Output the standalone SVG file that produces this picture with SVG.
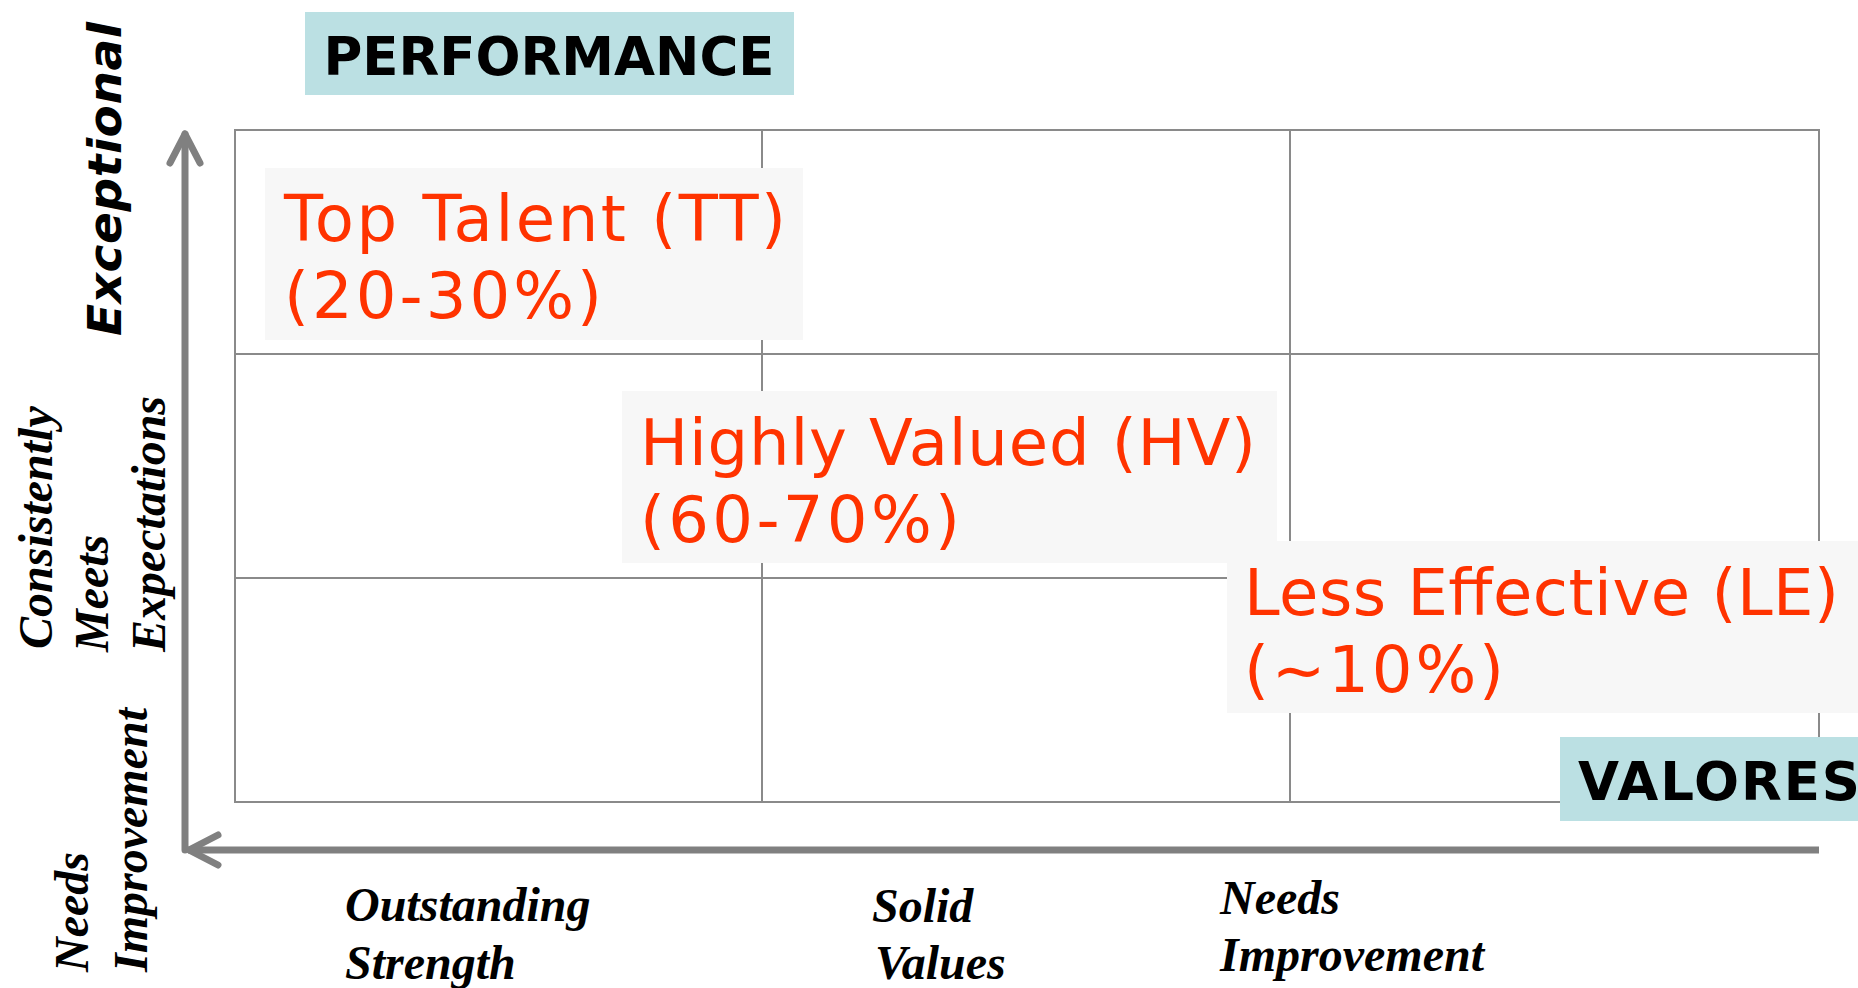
<svg xmlns="http://www.w3.org/2000/svg" width="1858" height="988" viewBox="0 0 1858 988">
<defs>
<style>
.grid{fill:none;stroke:#8a8a8a;stroke-width:2}
.axis{fill:none;stroke:#808080;stroke-width:7;stroke-linecap:round;stroke-linejoin:round}
.box{fill:#f7f7f7}
.hdr{fill:#bbe0e3}
.cat{font-family:"DejaVu Sans",Verdana,sans-serif;font-size:64px;fill:#ff3300}
.hdrt{font-family:"DejaVu Sans",Verdana,sans-serif;font-size:53px;font-weight:bold;fill:#000}
.lab{font-family:"Liberation Serif","Times New Roman",serif;font-size:48px;font-weight:bold;font-style:italic;fill:#000}
.exc{font-family:"DejaVu Sans",Verdana,sans-serif;font-size:47px;font-weight:bold;font-style:oblique;fill:#000}
</style>
</defs>
<rect width="1858" height="988" fill="#fff"/>
<g id="grid">
<rect class="grid" x="235" y="130" width="1584" height="672"/>
<line class="grid" x1="762" y1="130" x2="762" y2="802"/>
<line class="grid" x1="1290" y1="130" x2="1290" y2="802"/>
<line class="grid" x1="235" y1="354" x2="1819" y2="354"/>
<line class="grid" x1="235" y1="578" x2="1819" y2="578"/>
</g>
<g id="connectors">
<line class="axis" x1="185" y1="850" x2="185" y2="134"/>
<polyline class="axis" points="170,163 185,134 200,163"/>
<line class="axis" x1="188" y1="850" x2="1819" y2="850" style="stroke-linecap:butt"/>
<polyline class="axis" points="218,835 189,850 218,865"/>
</g>
<g id="performance">
<rect class="hdr" x="305" y="12" width="489" height="83"/>
<text class="hdrt" x="549" y="75" text-anchor="middle">PERFORMANCE</text>
</g>
<g id="tt">
<rect class="box" x="265" y="168" width="538" height="172"/>
<text class="cat" x="284" y="241" textLength="502" lengthAdjust="spacing">Top Talent (TT)</text>
<text class="cat" x="284" y="318" textLength="318" lengthAdjust="spacing">(20-30%)</text>
</g>
<g id="hv">
<rect class="box" x="622" y="391" width="655" height="172"/>
<text class="cat" x="640" y="465" textLength="616" lengthAdjust="spacing">Highly Valued (HV)</text>
<text class="cat" x="640" y="542" textLength="320" lengthAdjust="spacing">(60-70%)</text>
</g>
<g id="le">
<rect class="box" x="1227" y="541" width="631" height="172"/>
<text class="cat" x="1244" y="615" textLength="595" lengthAdjust="spacing">Less Effective (LE)</text>
<text class="cat" x="1244" y="692" textLength="260" lengthAdjust="spacing">(~10%)</text>
</g>
<g id="valores">
<rect class="hdr" x="1560" y="737" width="298" height="84"/>
<text class="hdrt" x="1578" y="800" textLength="282" lengthAdjust="spacing">VALORES</text>
</g>
<g id="y-exceptional">
<text class="exc" transform="translate(121,336) rotate(-90)" textLength="314" lengthAdjust="spacing">Exceptional</text>
</g>
<g id="y-meets">
<text class="lab" transform="translate(52,649) rotate(-90)">Consistently</text>
<text class="lab" transform="translate(108,652) rotate(-90)">Meets</text>
<text class="lab" transform="translate(165,652) rotate(-90)">Expectations</text>
</g>
<g id="y-needs">
<text class="lab" transform="translate(88,972) rotate(-90)">Needs</text>
<text class="lab" transform="translate(147,972) rotate(-90)">Improvement</text>
</g>
<g id="x-outstanding">
<text class="lab" x="345" y="921">Outstanding</text>
<text class="lab" x="345" y="979">Strength</text>
</g>
<g id="x-solid">
<text class="lab" x="872" y="922">Solid</text>
<text class="lab" x="875" y="979">Values</text>
</g>
<g id="x-needs">
<text class="lab" x="1220" y="914">Needs</text>
<text class="lab" x="1220" y="971">Improvement</text>
</g>
</svg>
